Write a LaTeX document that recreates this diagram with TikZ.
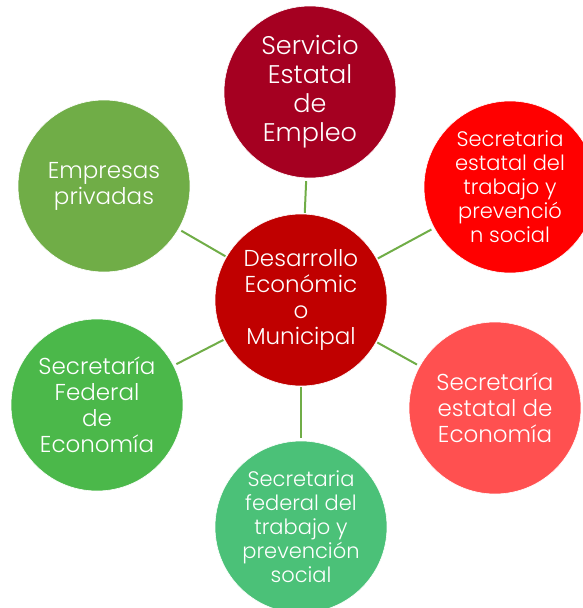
\documentclass[tikz,border=0pt]{standalone}
\usepackage{fontspec}
\setmainfont{Poppins}[UprightFont=* Light]
\definecolor{empleo}{HTML}{A50021}
\definecolor{trabajoest}{HTML}{FF0000}
\definecolor{centro}{HTML}{C00000}
\definecolor{economiaest}{HTML}{FF5050}
\definecolor{trabajofed}{HTML}{4BC178}
\definecolor{economiafed}{HTML}{4BB84A}
\definecolor{empresas}{HTML}{70AD47}

\begin{document}
\begin{tikzpicture}[
	x=1pt, y=-1pt,
	bubble/.style={circle, minimum size=172pt, inner sep=0pt, text=white, align=center, draw=white, line width=0.6pt},
	big/.style={font=\fontsize{23}{26}\selectfont},
	small/.style={font=\fontsize{21}{24}\selectfont}
]
\useasboundingbox (0,0) rectangle (582,608);
%% Draw circles
\node[bubble, big, fill=centro] (desarrollo) at (301,300) {Desarrollo\\Económic\\o\\Municipal};
\node[bubble, fill=empleo, font=\fontsize{25.5}{29}\selectfont] (servicio) at (310,92) {Servicio\\Estatal\\de\\Empleo};
\node[bubble, small, fill=trabajoest] (trabajoest) at (510,187) {Secretaria\\estatal del\\trabajo y\\prevenció\\n social};
\node[bubble, big, fill=economiaest] (economiaest) at (495,408) {Secretaría\\estatal de\\Economía};
\node[bubble, small, fill=trabajofed] (trabajofed) at (301,527) {Secretaria\\federal del\\trabajo y\\prevención\\social};
\node[bubble, big, fill=economiafed] (economiafed) at (97,405) {Secretaría\\Federal\\de\\Economía};
\node[bubble, big, fill=empresas] (empresas) at (104,186) {Empresas\\privadas};

%% Draw links
\path[link/.style={draw=empresas, line width=2pt, shorten <=1pt, shorten >=3pt}]
	(desarrollo) edge [link] (servicio)
	(desarrollo) edge [link] (trabajoest)
	(desarrollo) edge [link] (economiaest)
	(desarrollo) edge [link] (trabajofed)
	(desarrollo) edge [link] (economiafed)
	(desarrollo) edge [link] (empresas)
	;

\end{tikzpicture}
\end{document}
